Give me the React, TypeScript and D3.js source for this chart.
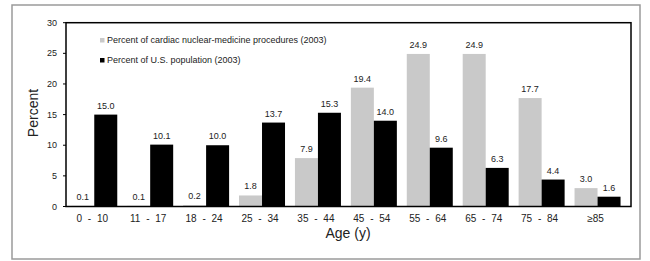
import React from "react";
import * as d3 from "d3";

const categories = ["0 - 10", "11 - 17", "18 - 24", "25 - 34", "35 - 44", "45 - 54", "55 - 64", "65 - 74", "75 - 84", "≥85"];
const procedures = [0.1, 0.1, 0.2, 1.8, 7.9, 19.4, 24.9, 24.9, 17.7, 3.0];
const population = [15.0, 10.1, 10.0, 13.7, 15.3, 14.0, 9.6, 6.3, 4.4, 1.6];
const yTicks = [0, 5, 10, 15, 20, 25, 30];
const seriesNames = ["Percent of cardiac nuclear-medicine procedures (2003)", "Percent of U.S. population (2003)"];
const seriesColors = ["#c9c9c9", "#000000"];

export default function App() {
  const W = 650, H = 261;
  const plotL = 66, plotR = 631, plotT = 22.7, plotB = 206.5;
  const x = d3.scaleBand<string>().domain(categories).range([66.3, 625.5]).padding(0);
  const y = d3.scaleLinear().domain([0, 30]).range([plotB, plotT]);
  const barW = 23;
  const series = [procedures, population];
  const font = "'Liberation Sans', Arial, sans-serif";
  const txt = "#222";

  return (
    <svg width={W} height={H} style={{ position: "absolute", left: 0, top: 0 }} fontFamily={font}>
      <rect x={0} y={0} width={W} height={H} fill="#fff" />
      <rect x={12} y={5} width={628} height={254} fill="none" stroke="#9a9a9a" strokeWidth={1.5} />
      {series.map((vals, si) =>
        vals.map((v, i) => {
          const c = (x(categories[i]) as number) + x.bandwidth() / 2;
          const bx = si === 0 ? c - barW : c;
          return (
            <g key={`${si}-${i}`}>
              <rect x={bx} y={y(v)} width={barW} height={plotB - y(v)} fill={seriesColors[si]} />
              <text x={bx + barW / 2} y={y(v) - 6} textAnchor="middle" fontSize={9} fill={txt}>
                {v.toFixed(1)}
              </text>
            </g>
          );
        })
      )}
      <rect x={plotL} y={plotT} width={plotR - plotL} height={plotB - plotT} fill="none" stroke="#000" strokeWidth={1.5} />
      {yTicks.map((t) => (
        <g key={t}>
          <line x1={plotL - 3} x2={plotL} y1={y(t)} y2={y(t)} stroke="#000" strokeWidth={1} />
          <text x={57} y={y(t)} dy="0.35em" textAnchor="end" fontSize={9} fill={txt}>
            {t}
          </text>
        </g>
      ))}
      {categories.map((c) => (
        <text key={c} x={(x(c) as number) + x.bandwidth() / 2 - 2} y={222} textAnchor="middle" fontSize={10} wordSpacing={3} fill={txt}>
          {c}
        </text>
      ))}
      <text x={348} y={238} textAnchor="middle" fontSize={14} fill={txt}>Age (y)</text>
      <text transform="translate(38,113) rotate(-90)" textAnchor="middle" fontSize={14} fill={txt}>Percent</text>
      {seriesNames.map((n, i) => (
        <g key={n}>
          <rect x={100} y={38 + i * 20} width={4.5} height={4.5} fill={seriesColors[i]} />
          <text x={107} y={40.3 + i * 20} dy="0.35em" fontSize={9} fill={txt}>{n}</text>
        </g>
      ))}
    </svg>
  );
}
